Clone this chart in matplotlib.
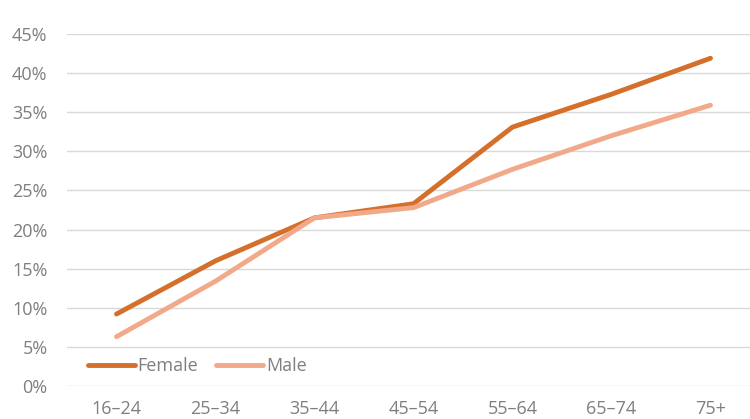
import matplotlib.pyplot as plt
from matplotlib.ticker import FuncFormatter

plt.rcParams['font.family'] = ['Open Sans', 'DejaVu Sans']

ages = ['16–24', '25–34', '35–44', '45–54', '55–64', '65–74', '75+']
female = [9.2, 16.0, 21.5, 23.3, 33.1, 37.3, 41.9]
male = [6.3, 13.4, 21.5, 22.8, 27.7, 32.0, 35.9]

fig = plt.figure(figsize=(7.5, 4.19), dpi=100)
# plot area runs a little past the right edge, as in the original crop
ax = fig.add_axes([67 / 750, 1 - 386 / 419, 693 / 750, 352 / 419])

x = list(range(len(ages)))
ax.plot(x, female, color='#D4702B', linewidth=3.5, solid_capstyle='round', label='Female')
ax.plot(x, male, color='#F2A98A', linewidth=3.5, solid_capstyle='round', label='Male')

ax.set_xlim(-0.5, 6.5)
ax.set_ylim(0, 45)
ax.set_yticks(range(0, 46, 5))
ax.yaxis.set_major_formatter(FuncFormatter(lambda v, p: '%d%%' % v))
ax.set_xticks(x)
ax.set_xticklabels(ages)

ax.grid(True, axis='y', color='#D9D9D9', linewidth=1)
ax.set_axisbelow(True)
for s in ax.spines.values():
    s.set_visible(False)
ax.tick_params(length=0, colors='#7F7F7F', labelsize=13)
ax.tick_params(axis='y', pad=14)
ax.tick_params(axis='x', pad=10)

ax.legend(loc='center left', bbox_to_anchor=(21 / 693, 20 / 352), frameon=False, ncol=2,
          fontsize=13, labelcolor='#7F7F7F', handlelength=2.6, handletextpad=0.15,
          columnspacing=1.0, borderpad=0, borderaxespad=0)

fig.savefig('out.png', dpi=100)
